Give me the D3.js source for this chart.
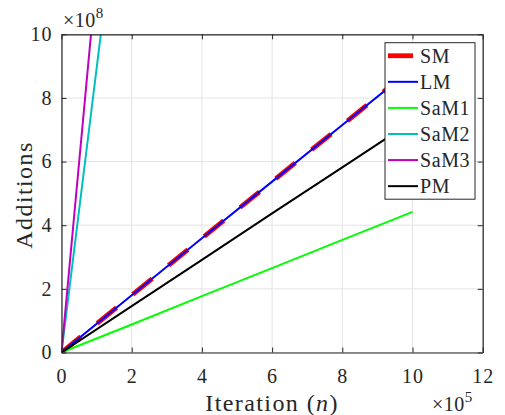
<!DOCTYPE html>
<html>
<head>
<meta charset="utf-8">
<script src="https://cdn.jsdelivr.net/npm/d3@7"></script>
<style>
  html, body { margin: 0; padding: 0; background: #fff; }
  svg { display: block; }
</style>
</head>
<body>
<svg id="chart" width="505" height="415"></svg>
<script>
// Iteration counts (n) and additions per method
const iterations = [0, 2e5, 4e5, 6e5, 8e5, 10e5];
const smValues   = [0, 1.80e8, 3.59e8, 5.37e8, 7.15e8, 8.93e8];
const lmValues   = [0, 1.80e8, 3.59e8, 5.37e8, 7.15e8, 8.93e8];
const sam1Values = [0, 0.88e8, 1.77e8, 2.65e8, 3.54e8, 4.42e8];
const pmValues   = [0, 1.46e8, 2.91e8, 4.37e8, 5.82e8, 7.27e8];
// The fast-growing methods leave the frame early, so they are sampled only up to there
const sam2Iterations = [0, 0.56e5, 1.12e5, 1.3e5];
const sam2Values     = [0, 5.0e8, 10.0e8, 11.6e8];
const sam3Iterations = [0, 0.42e5, 0.84e5, 1.0e5];
const sam3Values     = [0, 5.0e8, 10.0e8, 11.9e8];

const seriesNames  = ["SM", "LM", "SaM1", "SaM2", "SaM3", "PM"];
const seriesColors = ["#ff0000", "#0000ff", "#00ff00", "#00bfbf", "#bf00bf", "#000000"];

const xTicks = [0, 2, 4, 6, 8, 10, 12];
const yTicks = [0, 2, 4, 6, 8, 10];

const FONT = '"Liberation Serif", Tinos, "Times New Roman", Times, "Nimbus Roman", "Noto Serif", "DejaVu Serif", FreeSerif, serif';

const svg = d3.select("#chart").attr("font-family", FONT);
svg.append("rect").attr("width", 505).attr("height", 415).attr("fill", "#fff");

const pLeft = 61.5, pRight = 482.7, pTop = 34.3, pBottom = 352.5;
const x = d3.scaleLinear().domain([0, 12e5]).range([pLeft, pRight]);
const y = d3.scaleLinear().domain([0, 10e8]).range([pBottom, pTop]);

// grid
const grid = svg.append("g").attr("stroke", "#e3e3e3").attr("stroke-width", 1);
xTicks.forEach(t => grid.append("line")
  .attr("x1", x(t * 1e5)).attr("x2", x(t * 1e5)).attr("y1", pTop).attr("y2", pBottom));
yTicks.forEach(t => grid.append("line")
  .attr("x1", pLeft).attr("x2", pRight).attr("y1", y(t * 1e8)).attr("y2", y(t * 1e8)));

// clip for data lines
svg.append("clipPath").attr("id", "plotClip").append("rect")
  .attr("x", pLeft).attr("y", pTop).attr("width", pRight - pLeft).attr("height", pBottom - pTop);

const line = d3.line().x(d => x(d[0])).y(d => y(d[1]));
const zip = (xs, ys) => xs.map((v, i) => [v, ys[i]]);

const series = [
  { name: "SM",   data: zip(iterations, smValues),   color: seriesColors[0], width: 4.8, dash: "25,21" },
  { name: "LM",   data: zip(iterations, lmValues),   color: seriesColors[1], width: 2 },
  { name: "SaM1", data: zip(iterations, sam1Values), color: seriesColors[2], width: 2 },
  { name: "SaM2", data: zip(sam2Iterations, sam2Values), color: seriesColors[3], width: 2 },
  { name: "SaM3", data: zip(sam3Iterations, sam3Values), color: seriesColors[4], width: 2 },
  { name: "PM",   data: zip(iterations, pmValues),   color: seriesColors[5], width: 2 }
];

const plot = svg.append("g").attr("clip-path", "url(#plotClip)");
series.forEach(s => {
  plot.append("path")
    .attr("d", line(s.data))
    .attr("fill", "none")
    .attr("stroke", s.color)
    .attr("stroke-width", s.width)
    .attr("stroke-dasharray", s.dash || null);
});

// axes box with inward ticks on all sides
const axisColor = "#262626";
const fmt = d => String(d);
const xAxisB = d3.axisBottom(x).tickValues(xTicks.map(t => t * 1e5)).tickFormat(d => fmt(d / 1e5))
  .tickSizeInner(-5).tickSizeOuter(0).tickPadding(16);
const xAxisT = d3.axisTop(x).tickValues(xTicks.map(t => t * 1e5)).tickFormat("")
  .tickSizeInner(-5).tickSizeOuter(0);
const yAxisL = d3.axisLeft(y).tickValues(yTicks.map(t => t * 1e8)).tickFormat(d => fmt(d / 1e8))
  .tickSizeInner(-5).tickSizeOuter(0).tickPadding(9);
const yAxisR = d3.axisRight(y).tickValues(yTicks.map(t => t * 1e8)).tickFormat("")
  .tickSizeInner(-5).tickSizeOuter(0);

function styleAxis(g) {
  g.attr("font-family", FONT).attr("font-size", 20);
  g.select(".domain").attr("stroke", axisColor).attr("stroke-width", 1.2);
  g.selectAll(".tick line").attr("stroke", axisColor).attr("stroke-width", 1);
  g.selectAll(".tick text").attr("fill", "#262626").attr("letter-spacing", 1);
}
svg.append("g").attr("transform", `translate(0,${pBottom})`).call(xAxisB).call(styleAxis);
svg.append("g").attr("transform", `translate(0,${pTop})`).call(xAxisT).call(styleAxis);
svg.append("g").attr("transform", `translate(${pLeft},0)`).call(yAxisL).call(styleAxis);
svg.append("g").attr("transform", `translate(${pRight},0)`).call(yAxisR).call(styleAxis);

// exponent labels
const yExp = svg.append("text").attr("x", 63).attr("y", 27).attr("fill", "#262626")
  .attr("font-size", 20).attr("letter-spacing", 0.5);
yExp.append("tspan").text("×10");
yExp.append("tspan").attr("dy", -9).attr("font-size", 15).text("8");

const xExp = svg.append("text").attr("x", 432).attr("y", 411).attr("fill", "#262626")
  .attr("font-size", 20).attr("letter-spacing", 0.5);
xExp.append("tspan").text("×10");
xExp.append("tspan").attr("dy", -9).attr("font-size", 15).text("5");

// axis titles
const xTitle = svg.append("text").attr("x", (pLeft + pRight) / 2).attr("y", 411)
  .attr("text-anchor", "middle").attr("fill", "#262626")
  .attr("font-size", 24).attr("letter-spacing", 1.4);
xTitle.append("tspan").text("Iteration (");
xTitle.append("tspan").attr("font-style", "italic").text("n");
xTitle.append("tspan").text(")");

svg.append("text")
  .attr("transform", `translate(32,195) rotate(-90)`)
  .attr("text-anchor", "middle").attr("fill", "#262626")
  .attr("font-size", 24).attr("letter-spacing", 1.4)
  .text("Additions");

// legend
const lg = svg.append("g");
const lgX = 385, lgY = 42.7, lgW = 90, lgH = 156.5, rowH = lgH / seriesNames.length;
lg.append("rect").attr("x", lgX).attr("y", lgY).attr("width", lgW).attr("height", lgH)
  .attr("fill", "#fff").attr("stroke", axisColor).attr("stroke-width", 1);
series.forEach((s, i) => {
  const cy = lgY + rowH * (i + 0.5);
  lg.append("line").attr("x1", lgX + 3).attr("x2", lgX + 33).attr("y1", cy).attr("y2", cy)
    .attr("stroke", s.color).attr("stroke-width", s.width)
    .attr("stroke-dasharray", s.dash || null);
  lg.append("text").attr("x", lgX + 35).attr("y", cy).attr("dy", "0.34em")
    .attr("fill", "#262626").attr("font-size", 20).attr("letter-spacing", 0.6).text(s.name);
});
</script>
</body>
</html>
